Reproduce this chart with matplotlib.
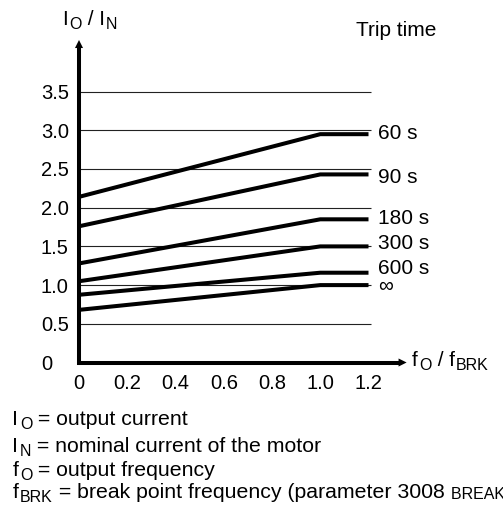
import matplotlib
matplotlib.use("Agg")
import matplotlib.pyplot as plt
import numpy as np

plt.rcParams['font.family'] = ['Liberation Sans', 'DejaVu Sans']

# Thermal trip curves: load at f=0 and at the break point, flat beyond it
trip_times = ['60 s', '90 s', '180 s', '300 s', '600 s', '\u221e']
load_at_zero = [2.14, 1.76, 1.28, 1.05, 0.875, 0.68]
load_at_break = [2.95, 2.43, 1.85, 1.50, 1.16, 1.00]
freq_points = [0.0, 1.0, 1.2]

y_ticks = [0, 0.5, 1.0, 1.5, 2.0, 2.5, 3.0, 3.5]
y_labels = ['0', '0.5', '1.0', '1.5', '2.0', '2.5', '3.0', '3.5']
x_ticks = [0, 0.2, 0.4, 0.6, 0.8, 1.0, 1.2]
x_labels = ['0', '0.2', '0.4', '0.6', '0.8', '1.0', '1.2']

W, H = 503, 515
fig = plt.figure(figsize=(W / 100, H / 100), dpi=100)
x_px, y_px = 241.25, 77.4       # pixels per unit
ax = fig.add_axes([79 / W, (H - 362.5) / H, 1.4 * x_px / W, 4.2 * y_px / H])
ax.set_xlim(0, 1.4)
ax.set_ylim(0, 4.2)
for s in ax.spines.values():
    s.set_visible(False)

fs = 15
note_fs = 15.3
tick_fs = 14.5
sub_fs = 11.5
caps_fs = 11.5

# horizontal grid
ax.hlines(y_ticks[1:], 0, 1.21, color='#222222', lw=0.8)

# curves
label_y = [2.894, 2.323, 1.789, 1.466, 1.143, 0.91]
for lo, hi, name, ly in zip(load_at_zero, load_at_break, trip_times, label_y):
    ax.plot(freq_points, [lo, hi, hi], color='black', lw=2.9,
            solid_joinstyle='miter', solid_capstyle='butt')
    ax.text(1.24, ly, name, fontsize=fs, va='baseline', ha='left')

# axes with arrow heads
ax.plot([0, 0, 1.326], [4.06, 0, 0], color='black', lw=2.9,
        solid_joinstyle='miter', solid_capstyle='butt', clip_on=False)
head = dict(arrowstyle='-|>,head_length=0.58,head_width=0.29', lw=0,
            color='black', shrinkA=0, shrinkB=0, mutation_scale=10)
ax.annotate('', xy=(0, 4.167), xytext=(0, 4.06), arrowprops=head,
            annotation_clip=False)
ax.annotate('', xy=(1.358, 0), xytext=(1.325, 0), arrowprops=head,
            annotation_clip=False)

# ticks
ax.set_yticks(y_ticks, y_labels, fontsize=tick_fs)
ax.tick_params(axis='y', length=0, pad=27.4)
for lab in ax.get_yticklabels():
    lab.set_horizontalalignment('left')
ax.set_xticks(x_ticks, x_labels, fontsize=tick_fs)
ax.set_xticks(x_ticks[1:], minor=True)
ax.tick_params(axis='x', which='major', length=0, pad=8)
ax.tick_params(axis='x', which='minor', direction='inout', length=5.8,
               width=3.6, color='black')


def rich_text(x, y, parts, size=fs):
    """Chain text pieces from pixel (x, y).
    kind 0 = normal, 1 = subscript, 2 = small capitals."""
    base = 1 - y / H
    prev = fig.text(x / W, base, parts[0][0], fontsize=size, va='baseline')
    for piece, kind in parts[1:]:
        psize = {0: size, 1: sub_fs, 2: caps_fs}[kind]
        dx = {0: 0, 1: 1.0, 2: 5.0}[kind]
        dy = -2.6 if kind == 1 else 0
        prev = ax.annotate(piece, xy=(1, base), xycoords=(prev, 'figure fraction'),
                           xytext=(dx, dy), textcoords='offset points',
                           va='baseline', fontsize=psize)
    return prev


rich_text(62, 25, [('I', 0), ('O', 1), (' / I', 0), ('N', 1)])
fig.text(356 / W, 1 - 36 / H, 'Trip time', fontsize=fs, va='baseline')
rich_text(412, 366, [('f', 0), ('O', 1), (' / f', 0), ('BRK', 1)])

rich_text(12.5, 425, [('I', 0), ('O', 1), (' = output current', 0)], note_fs)
rich_text(12.5, 452.5, [('I', 0), ('N', 1),
                        (' = nominal current of the motor', 0)], note_fs)
rich_text(12.5, 476.5, [('f', 0), ('O', 1), (' = output frequency', 0)], note_fs)
rich_text(12.5, 498.5, [('f', 0), ('BRK', 1),
                        (' = break point frequency (parameter 3008', 0),
                        ('BREAK POINT)', 2)], note_fs)

fig.savefig('out.png', dpi=100)
